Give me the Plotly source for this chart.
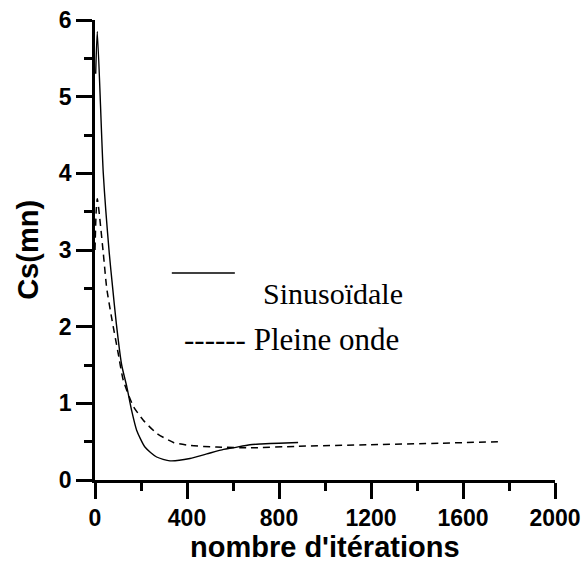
import plotly.graph_objects as go

# Data
sinus_x = [3, 10, 36, 62, 77, 92, 116, 138, 159, 181, 217, 268, 326, 413, 486, 559, 600, 674, 721, 800, 883]
sinus_y = [5.3, 5.85, 4.0, 2.96, 2.5, 2.06, 1.5, 1.22, 0.91, 0.65, 0.43, 0.30, 0.25, 0.28, 0.34, 0.40, 0.42, 0.46, 0.47, 0.48, 0.49]

pleine_x = [0, 5, 10, 36, 51, 72, 101, 123, 167, 210, 268, 341, 413, 529, 674, 883, 1200, 1500, 1770]
pleine_y = [3.0, 3.5, 3.67, 2.96, 2.5, 2.12, 1.65, 1.30, 0.96, 0.78, 0.61, 0.49, 0.45, 0.43, 0.42, 0.44, 0.46, 0.48, 0.50]

x_ticks = [0, 400, 800, 1200, 1600, 2000]
y_ticks = [0, 1, 2, 3, 4, 5, 6]

x_title = "nombre d'itérations"
y_title = "Cs(mn)"
label_sinus = "Sinusoïdale"
label_pleine = "------ Pleine onde"

SANS = "Liberation Sans, Arial, sans-serif"
SERIF = "Liberation Serif, Times New Roman, serif"

fig = go.Figure()
fig.add_trace(go.Scatter(x=sinus_x, y=sinus_y, mode="lines",
                         line=dict(color="black", width=1.4, shape="spline", smoothing=0.6),
                         name=label_sinus, showlegend=False))
fig.add_trace(go.Scatter(x=pleine_x, y=pleine_y, mode="lines",
                         line=dict(color="black", width=1.5, dash="7px,5px", shape="spline", smoothing=0.6),
                         name="Pleine onde", showlegend=False))

axis_common = dict(
    showline=True, linecolor="black", linewidth=2.5,
    ticks="outside", ticklen=16, tickwidth=2.5, tickcolor="black",
    showgrid=False, zeroline=False, automargin=False,
    tickfont=dict(family=SANS, size=23, color="black", weight=700),
)

fig.update_xaxes(range=[0, 2000], tickmode="array", tickvals=x_ticks,
                 ticktext=[f"<b>{v}</b>" for v in x_ticks],
                 minor=dict(ticks="outside", ticklen=8, tickwidth=2.5, tickcolor="black", dtick=200, tick0=0),
                 **axis_common)
fig.update_yaxes(range=[0, 6], tickmode="array", tickvals=y_ticks,
                 ticktext=[f"<b>{v}</b>" for v in y_ticks],
                 minor=dict(ticks="outside", ticklen=8, tickwidth=2.5, tickcolor="black", dtick=0.5, tick0=0),
                 **axis_common)

# Axis titles
fig.add_annotation(xref="paper", yref="paper", x=0.5, y=-0.145, xanchor="center", yanchor="middle",
                   text=x_title, showarrow=False,
                   font=dict(family=SANS, size=29, color="black", weight=700))
fig.add_annotation(xref="paper", yref="paper", x=-0.146, y=0.5, xanchor="center", yanchor="middle",
                   text=y_title, showarrow=False, textangle=-90,
                   font=dict(family=SANS, size=29, color="black", weight=700))

# Legend drawn as in the reference
fig.add_shape(type="line", xref="paper", yref="paper", x0=0.167, x1=0.304, y0=0.45, y1=0.45,
              line=dict(color="black", width=1.5))
fig.add_annotation(xref="paper", yref="paper", x=0.360, y=0.405, xanchor="left", yanchor="middle",
                   text=label_sinus, showarrow=False, font=dict(family=SERIF, size=30, color="black"))
fig.add_annotation(xref="paper", yref="paper", x=0.189, y=0.305, xanchor="left", yanchor="middle",
                   text=label_pleine, showarrow=False, font=dict(family=SERIF, size=31, color="black"))

fig.update_layout(width=582, height=562, autosize=False,
                  margin=dict(l=95, r=27, t=20, b=82),
                  paper_bgcolor="white", plot_bgcolor="white")

fig.write_html("out.html")
